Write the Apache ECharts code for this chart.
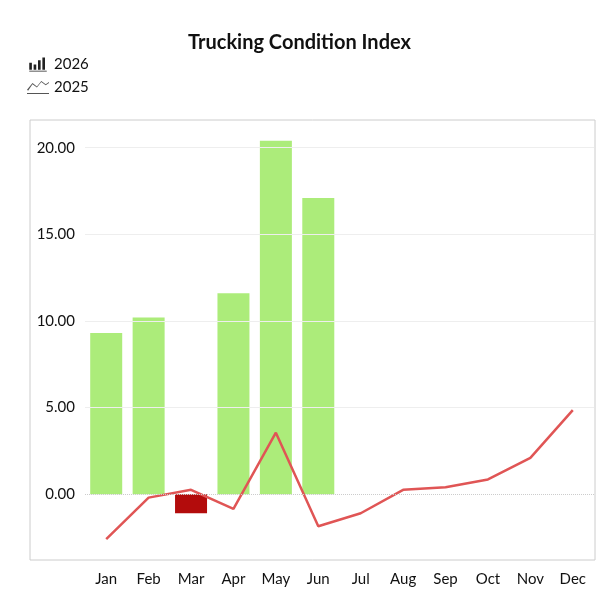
<!DOCTYPE html>
<html><head><meta charset="utf-8">
<script src="https://cdn.jsdelivr.net/npm/echarts@6/dist/echarts.min.js"></script>
<style>html,body{margin:0;padding:0;background:#fff}#c{width:599px;height:599px}</style>
</head><body><div id="c"></div>
<script>
const categories=['Jan','Feb','Mar','Apr','May','Jun','Jul','Aug','Sep','Oct','Nov','Dec'];
const values2026=[9.3,10.2,-1.1,11.6,20.4,17.1,null,null,null,null,null,null];
const values2025=[-2.6,-0.2,0.25,-0.85,3.55,-1.85,-1.1,0.25,0.4,0.85,2.1,4.85];
const tickValues=[0,5,10,15,20];
const chart=echarts.init(document.getElementById('c'));
chart.setOption({
  animation:false,
  textStyle:{fontFamily:'Lato, Noto Sans, sans-serif'},
  title:{text:'Trucking Condition Index',left:'center',top:28,textStyle:{fontSize:20,fontWeight:'bold',color:'#111'}},
  legend:{orient:'vertical',left:22,top:52,itemGap:8,itemWidth:22,itemHeight:14,textStyle:{fontSize:15,color:'#111'},
    data:[{name:'2026',icon:'path://M0,14L0,6L3,6L3,14ZM5,14L5,8L8,8L8,14ZM10,14L10,3L13,3L13,14ZM15,14L15,0L18,0L18,14ZM0,15L20,15L20,16L0,16Z',itemStyle:{color:'#222'}},
          {name:'2025',icon:'path://M0,12L5,6L9,9L13,4L17,7L20,5L20,6L17,8L13,5L9,10L5,7L1,13ZM0,15L20,15L20,16L0,16Z',itemStyle:{color:'#555'}}]},
  graphic:[{type:'rect',shape:{x:30,y:120,width:565,height:440},style:{fill:'none',stroke:'#ccc',lineWidth:1},silent:true}],
  grid:{left:85,right:5,top:120,bottom:39},
  xAxis:{type:'category',data:categories,axisLine:{show:false},axisTick:{show:false},axisLabel:{fontSize:15,color:'#111',margin:12}},
  yAxis:{type:'value',min:-3.8,max:21.6,splitLine:{show:false},axisLine:{show:false},axisTick:{show:false},
    axisLabel:{customValues:tickValues,formatter:v=>v.toFixed(2),fontSize:15,color:'#111',margin:10}},
  series:[
    {name:'2026',type:'bar',barWidth:32,
      data:values2026.map(v=>v==null?null:{value:v,itemStyle:{color:v<0?'#b30c0c':'#acec7a'}}),
      itemStyle:{color:'#acec7a'},
      markLine:{silent:true,symbol:'none',label:{show:false},
        data:[{yAxis:5,lineStyle:{color:'#eee',type:'solid',width:1}},{yAxis:10,lineStyle:{color:'#eee',type:'solid',width:1}},
              {yAxis:15,lineStyle:{color:'#eee',type:'solid',width:1}},{yAxis:20,lineStyle:{color:'#eee',type:'solid',width:1}},
              {yAxis:0,lineStyle:{color:'#ccc',type:'dotted',width:1}}]}},
    {name:'2025',type:'line',data:values2025,symbol:'none',lineStyle:{color:'#e05555',width:2.5},itemStyle:{color:'#e05555'},z:3}
  ]
});
</script></body></html>
